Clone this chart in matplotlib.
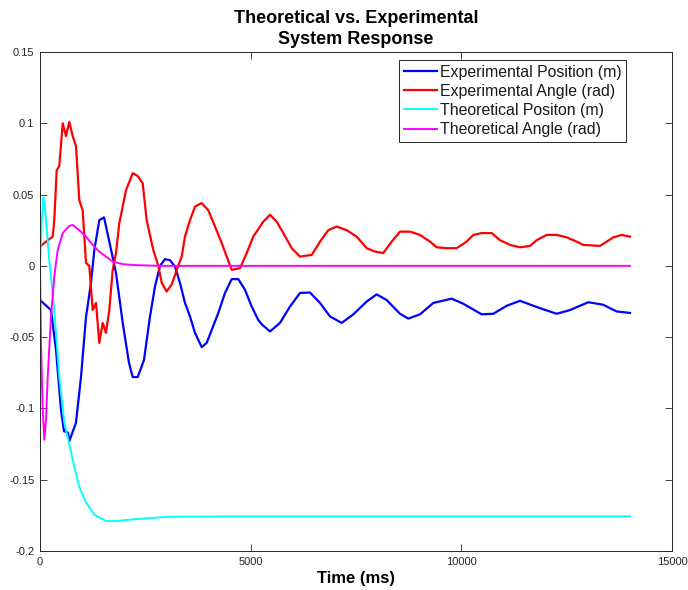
import matplotlib
matplotlib.use("Agg")
import matplotlib.pyplot as plt
from matplotlib import font_manager

# ---------------- data ----------------
exp_pos_t = [0, 261, 380, 498, 570, 665, 695, 854, 973, 1092, 1210, 1289, 1407, 1519, 1638,
             1804, 1963, 2112, 2200, 2319, 2468, 2611, 2729, 2848, 2967, 3085, 3204, 3323,
             3441, 3560, 3679, 3838, 3956, 4075, 4232, 4391, 4550, 4706, 4865, 5024, 5181,
             5262, 5459, 5696, 5934, 6171, 6408, 6646, 6883, 7161, 7436, 7754, 7991, 8229,
             8544, 8741, 9019, 9335, 9771, 10047, 10483, 10759, 11076, 11392, 11867, 12263,
             12579, 13013, 13369, 13687, 14003]
exp_pos_y = [-0.024, -0.031, -0.059, -0.101, -0.116, -0.117, -0.123, -0.110, -0.078, -0.036,
             -0.012, 0.011, 0.032, 0.034, 0.018, -0.005, -0.040, -0.068, -0.078, -0.078,
             -0.066, -0.0355, -0.0145, 0.0, 0.0047, 0.004, -0.0005, -0.012, -0.026, -0.0355,
             -0.047, -0.057, -0.054, -0.045, -0.033, -0.019, -0.0093, -0.0093, -0.0168,
             -0.0285, -0.038, -0.041, -0.046, -0.040, -0.0285, -0.019, -0.0187, -0.026,
             -0.0355, -0.040, -0.034, -0.025, -0.020, -0.024, -0.0336, -0.037, -0.034,
             -0.026, -0.023, -0.0266, -0.034, -0.0336, -0.028, -0.0245, -0.0297, -0.0336,
             -0.031, -0.0255, -0.0273, -0.032, -0.033]

exp_ang_t = [0, 142, 301, 339, 396, 458, 539, 617, 695, 776, 854, 933, 1013, 1092, 1170, 1251,
             1329, 1407, 1488, 1566, 1645, 1725, 1804, 1882, 2041, 2200, 2319, 2437, 2532,
             2689, 2808, 2889, 3007, 3126, 3244, 3363, 3441, 3560, 3679, 3838, 3994, 4153,
             4313, 4431, 4550, 4747, 4906, 5062, 5300, 5459, 5617, 5775, 5974, 6171, 6449,
             6646, 6842, 7042, 7279, 7516, 7754, 7951, 8148, 8347, 8544, 8782, 9019, 9256,
             9415, 9653, 9890, 10127, 10284, 10483, 10721, 10918, 11155, 11392, 11630, 11789,
             12026, 12263, 12500, 12737, 12894, 13291, 13450, 13608, 13806, 14003]
exp_ang_y = [0.0135, 0.017, 0.0205, 0.032, 0.067, 0.070, 0.100, 0.091, 0.101, 0.091, 0.084,
             0.046, 0.039, 0.002, 0.0, -0.031, -0.026, -0.054, -0.040, -0.047, -0.031,
             -0.003, 0.009, 0.030, 0.053, 0.065, 0.063, 0.058, 0.032, 0.011, 0.0, -0.012,
             -0.018, -0.013, -0.003, 0.0066, 0.0205, 0.032, 0.0416, 0.044, 0.039, 0.0276,
             0.016, 0.0065, -0.0028, -0.0016, 0.009, 0.0205, 0.031, 0.0358, 0.031, 0.023,
             0.0124, 0.0065, 0.0077, 0.017, 0.025, 0.0276, 0.025, 0.0205, 0.0124, 0.010,
             0.009, 0.017, 0.024, 0.024, 0.0217, 0.017, 0.013, 0.0124, 0.0124, 0.017, 0.0217,
             0.023, 0.023, 0.018, 0.0147, 0.013, 0.014, 0.018, 0.0217, 0.0217, 0.020, 0.017,
             0.0147, 0.014, 0.017, 0.020, 0.0217, 0.0205]

theo_pos_t = [0, 40, 78, 110, 221, 339, 458, 577, 695, 814, 933, 1092, 1289, 1566, 1804,
              2278, 3069, 4652, 14003]
theo_pos_y = [0.0, 0.03, 0.048, 0.044, 0.004, -0.031, -0.078, -0.110, -0.125, -0.141, -0.155,
              -0.166, -0.1745, -0.179, -0.179, -0.1776, -0.176, -0.1757, -0.1757]

theo_ang_t = [0, 24, 64, 102, 142, 183, 261, 339, 420, 539, 695, 776, 933, 1092, 1251, 1407,
              1566, 1725, 1963, 2278, 2848, 14003]
theo_ang_y = [0.0, -0.054, -0.101, -0.122, -0.108, -0.078, -0.0355, -0.0075, 0.011, 0.023,
              0.028, 0.0287, 0.025, 0.0205, 0.0147, 0.010, 0.0065, 0.003, 0.0012, 0.0005, 0.0,
              0.0]

series_labels = ["Experimental Position (m)", "Experimental Angle (rad)",
                 "Theoretical Positon (m)", "Theoretical Angle (rad)"]
x_ticks = [0, 5000, 10000, 15000]
x_tick_labels = ["0", "5000", "10000", "15000"]
y_ticks = [-0.2, -0.15, -0.1, -0.05, 0, 0.05, 0.1, 0.15]
y_tick_labels = ["-0.2", "-0.15", "-0.1", "-0.05", "0", "0.05", "0.1", "0.15"]
title_text = "Theoretical vs. Experimental\nSystem Response"
x_label = "Time (ms)"

# ---------------- fonts ----------------
names = {f.name for f in font_manager.fontManager.ttflist}
narrow = "Liberation Sans Narrow" if "Liberation Sans Narrow" in names else "Liberation Sans"
plt.rcParams["font.family"] = ["Liberation Sans", "DejaVu Sans"]
plt.rcParams["axes.unicode_minus"] = False

fig = plt.figure(figsize=(6.88, 5.90), dpi=100)
ax = fig.add_axes([40 / 688, 39 / 590, 632 / 688, 499 / 590])

ax.plot(exp_pos_t, exp_pos_y, color="#0000ff", lw=1.6, label=series_labels[0])
ax.plot(exp_ang_t, exp_ang_y, color="#ff0000", lw=1.6, label=series_labels[1])
ax.plot(theo_pos_t, theo_pos_y, color="#00ffff", lw=1.4, label=series_labels[2])
ax.plot(theo_ang_t, theo_ang_y, color="#ff00ff", lw=1.4, label=series_labels[3])

ax.set_xlim(0, 15000)
ax.set_ylim(-0.2, 0.15)
ax.set_xticks(x_ticks)
ax.set_xticklabels(x_tick_labels, family=[narrow, "DejaVu Sans"], fontsize=8)
ax.set_yticks(y_ticks)
ax.set_yticklabels(y_tick_labels, family=[narrow, "DejaVu Sans"], fontsize=8)
ax.tick_params(direction="in", length=5, width=0.6, colors="#262626",
               top=True, right=True, pad=4)
for s in ax.spines.values():
    s.set_color("#262626")
    s.set_linewidth(0.7)

ax.set_title(title_text, family=[narrow, "DejaVu Sans"], fontweight="bold",
             fontsize=13, pad=6, linespacing=1.3)
ax.set_xlabel(x_label, family=[narrow, "DejaVu Sans"], fontweight="bold",
              fontsize=12, labelpad=3)

leg = ax.legend(loc="upper right", bbox_to_anchor=(0.928, 0.984), fontsize=11.4,
                frameon=True, fancybox=False, framealpha=1, edgecolor="#262626",
                borderpad=0.3, labelspacing=0.26, handlelength=2.1, handletextpad=0.2,
                borderaxespad=0)
leg.get_frame().set_linewidth(0.7)
for txt in leg.get_texts():
    txt.set_color("#1a1a1a")

fig.savefig("out.png", dpi=100)
